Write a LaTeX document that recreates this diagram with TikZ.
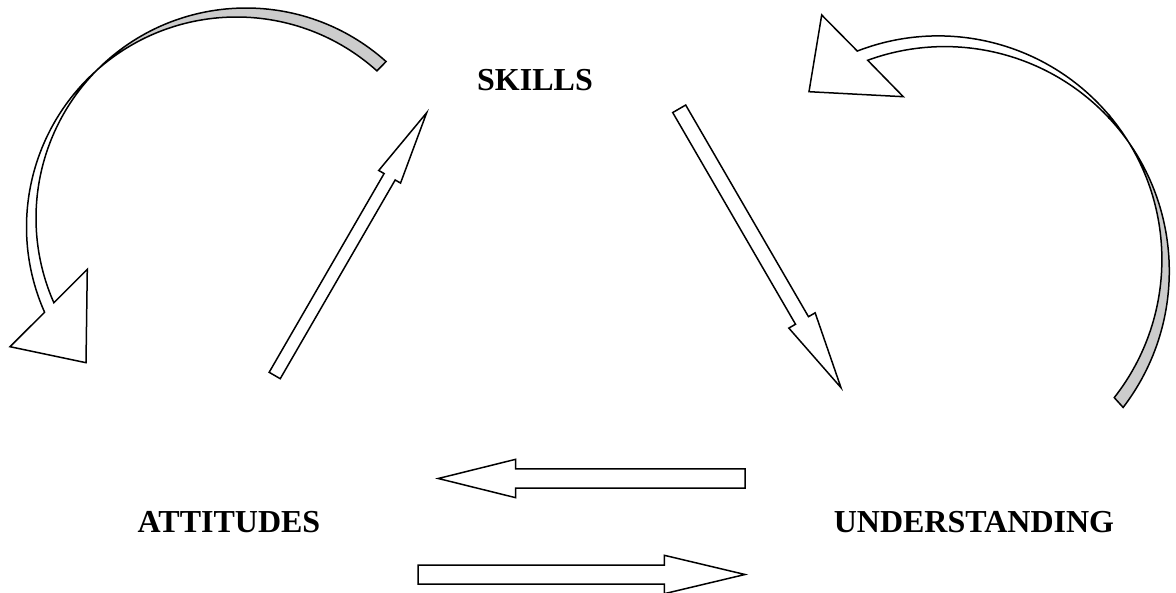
\documentclass[tikz,border=0pt]{standalone}
\usepackage{fontspec}
\setmainfont{Liberation Serif}
\usetikzlibrary{calc}

\tikzset{
  flatarrow/.style={draw=black, line width=1.5pt, fill=white, line join=miter},
  ribbonfront/.style={draw=black, line width=1.5pt, fill=white, line join=miter},
  ribbonback/.style={draw=black, line width=1.5pt, fill=black!20, line join=miter},
  topic/.style={font=\fontsize{32}{38}\selectfont\bfseries, inner sep=0pt}
}

% tail, tip, half shaft, half head, head length
\newcommand{\blockarrow}[5]{%
  \path let \p1=($(#2)-(#1)$) in
    \pgfextra{\pgfmathsetmacro{\arrlen}{veclen(\x1,\y1)}%
      \pgfmathsetmacro{\arrang}{atan2(\y1,\x1)}%
      \xdef\arrlen{\arrlen}\xdef\arrang{\arrang}};
  \begin{scope}[shift={(#1)}, rotate=\arrang]
    \draw[flatarrow] (0,-#3) -- ({\arrlen-#5},-#3) -- ({\arrlen-#5},-#4) -- (\arrlen,0)
      -- ({\arrlen-#5},#4) -- ({\arrlen-#5},#3) -- (0,#3) -- cycle;
  \end{scope}}

\begin{document}
\begin{tikzpicture}[x=1pt,y=-1pt]
  \useasboundingbox (0,0) rectangle (1176,593);

  \node[topic] (skills) at (535,80) {SKILLS};
  \node[topic] (attitudes) at (229,522) {ATTITUDES};
  \node[topic] (understanding) at (974,522) {UNDERSTANDING};

  \coordinate (as tail) at (274.7,375.5); \coordinate (as tip) at (426.7,112.7);
  \coordinate (su tail) at (679.2,108.8); \coordinate (su tip) at (841,387.7);
  \coordinate (ua tail) at (745,478.5);   \coordinate (ua tip) at (438.3,478.5);
  \coordinate (au tail) at (418,574.5);   \coordinate (au tip) at (745,574.5);

  \blockarrow{as tail}{as tip}{6.4}{12.6}{74}
  \blockarrow{su tail}{su tip}{7.5}{15.2}{77.7}
  \blockarrow{ua tail}{ua tip}{9.7}{19.2}{77.4}
  \blockarrow{au tail}{au tip}{9.5}{19.2}{80.7}

  \coordinate (lp) at (246,218);   \coordinate (lq) at (236.5,227);
  \coordinate (rp) at (938.2,259.6); \coordinate (rq) at (944.8,271.1);

  \draw[ribbonback] ($(lp)+(-48.15:210)$) arc[start angle=-48.15, end angle=-135.25, radius=210]
    -- ($(lq)+(-131.7:210)$) arc[start angle=-131.7, end angle=-48.05, radius=210] -- cycle;
  \draw[ribbonfront] ($(lp)+(-135.25:210)$) arc[start angle=-135.25, end angle=-203.8, radius=210]
    -- (87.3,269.3) -- (86,362.7) -- (10,346.7)
    -- ($(lq)+(-203.96:210)$) arc[start angle=-203.96, end angle=-131.7, radius=210] -- cycle;

  \draw[ribbonback] ($(rp)+(-40:223.7)$) arc[start angle=-40, end angle=38.1, radius=223.7]
    -- ($(rq)+(37.4:224.5)$) arc[start angle=37.4, end angle=-43, radius=224.5] -- cycle;
  \draw[ribbonfront] ($(rp)+(-40:223.7)$) arc[start angle=-40, end angle=-111.2, radius=223.7]
    -- (821.7,15) -- (809,91.7) -- (903.3,96.7)
    -- ($(rq)+(-110.1:224.5)$) arc[start angle=-110.1, end angle=-43, radius=224.5] -- cycle;
\end{tikzpicture}
\end{document}
